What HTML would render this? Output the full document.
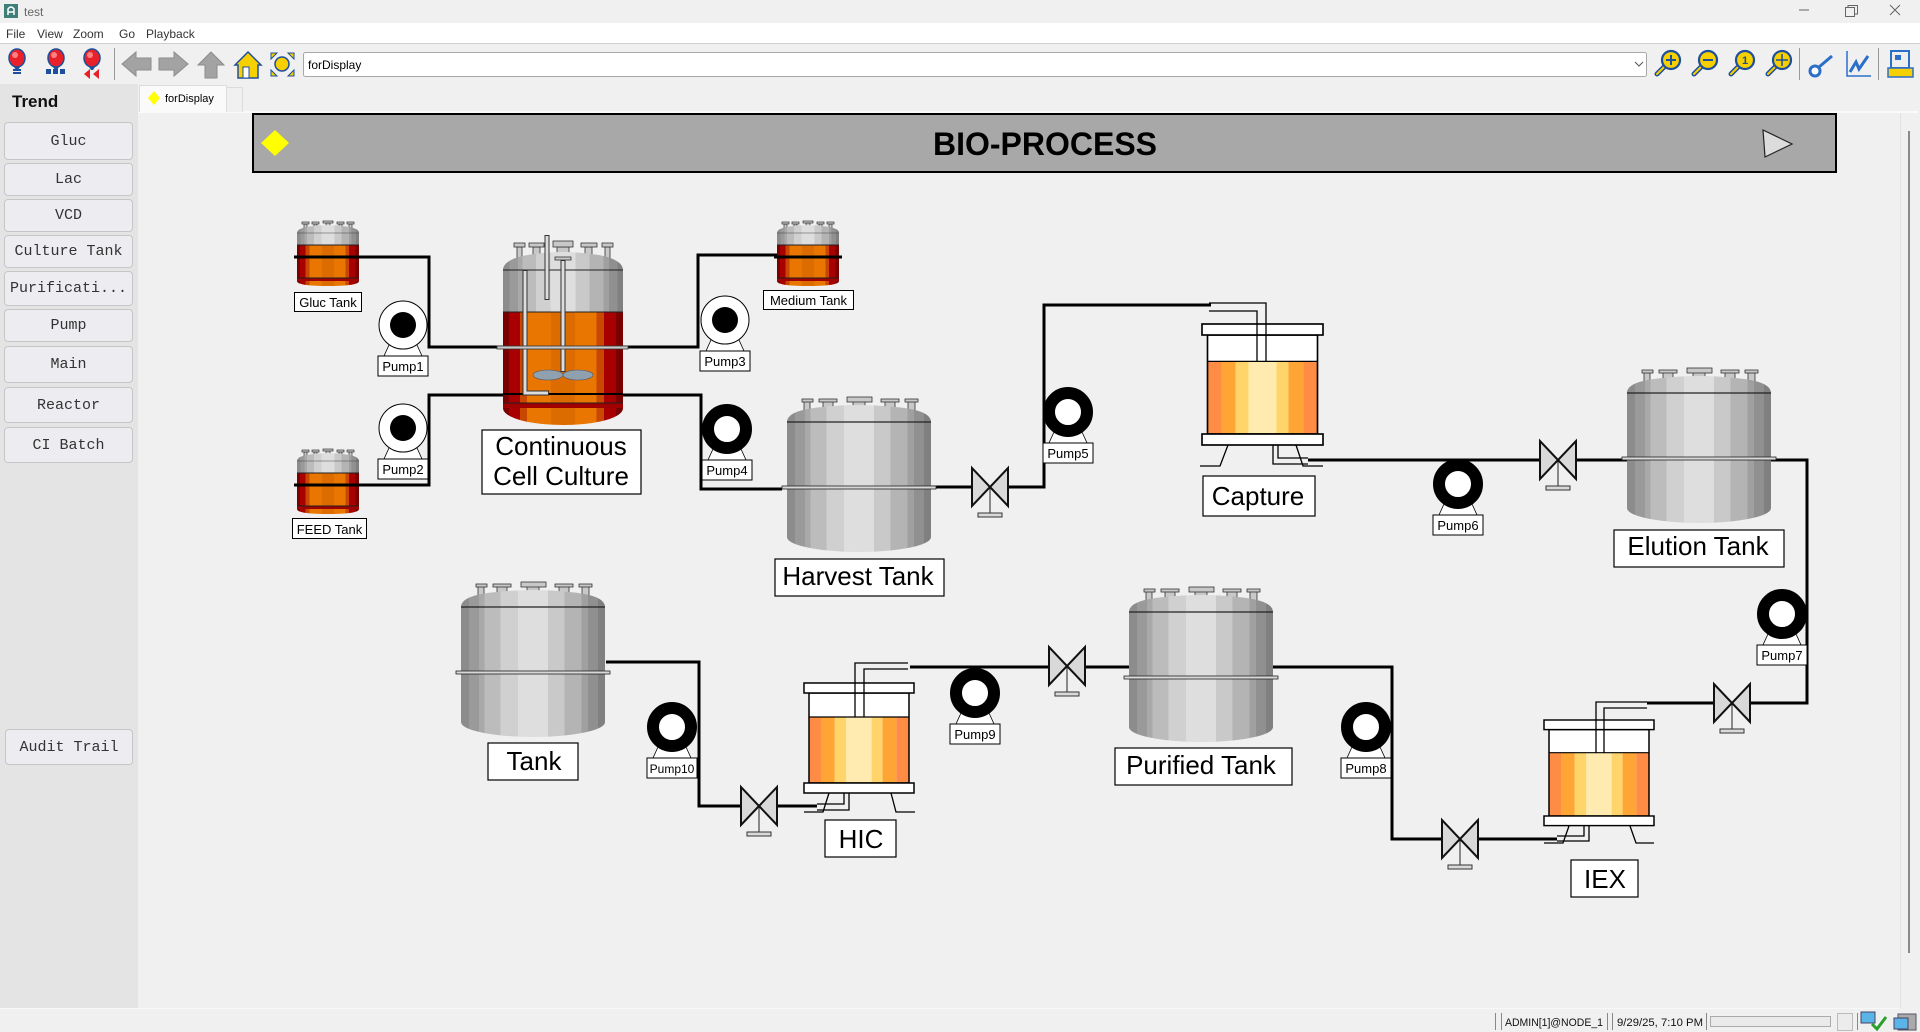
<!DOCTYPE html>
<html><head><meta charset="utf-8">
<style>
*{margin:0;padding:0;box-sizing:border-box}
body{width:1920px;height:1032px;overflow:hidden;background:#f0f0f0;font-family:"Liberation Sans",sans-serif;position:relative}
.a{position:absolute}
#menu{left:0;top:23px;width:1920px;height:21px;background:#fff;border-bottom:1px solid #cfcfcf}
#side{left:0;top:84px;width:138px;height:924px;background:#e4e4e4}
.btn{position:absolute;left:4px;width:129px;background:#ededf1;border:1px solid #c6c6c6;border-radius:4px;font-family:"Liberation Mono","DejaVu Sans Mono",monospace;font-size:15px;color:#333;display:flex;align-items:center;justify-content:center;white-space:nowrap}
#trend{position:absolute;left:12px;top:8px;font-weight:bold;font-size:17px;color:#111}
#tab{left:139px;top:85px;width:88px;height:27px;background:#fafafa;border:1px solid #dcdcdc;border-bottom:none}
#tab2{left:227px;top:87px;width:16px;height:25px;background:#f0f0f0;border:1px solid #dcdcdc;border-bottom:none;border-left:none}
#tabline{left:138px;top:111px;width:1780px;height:2px;background:#fafafa}
svg{position:absolute;left:0;top:0}
</style></head>
<body>
<div class="a" id="menu"></div>
<div class="a" id="side">
  <div id="trend">Trend</div>
  <div class="btn" style="top:38px;height:38px">Gluc</div>
  <div class="btn" style="top:79px;height:33px">Lac</div>
  <div class="btn" style="top:115px;height:33px">VCD</div>
  <div class="btn" style="top:151px;height:33px">Culture Tank</div>
  <div class="btn" style="top:187px;height:35px">Purificati...</div>
  <div class="btn" style="top:225px;height:33px">Pump</div>
  <div class="btn" style="top:262px;height:37px">Main</div>
  <div class="btn" style="top:303px;height:36px">Reactor</div>
  <div class="btn" style="top:343px;height:36px">CI Batch</div>
  <div class="btn" style="top:645px;height:36px;left:5px;width:128px">Audit Trail</div>
</div>
<div class="a" id="tabline"></div>
<div class="a" id="tab"></div>
<div class="a" id="tab2"></div>

<svg width="1920" height="1032" viewBox="0 0 1920 1032" xmlns="http://www.w3.org/2000/svg">
<defs>
<linearGradient id="gg" x1="0" x2="1" y1="0" y2="0">
<stop offset="0" stop-color="#8c8c8c"/><stop offset=".054" stop-color="#8c8c8c"/>
<stop offset=".054" stop-color="#9a9a9a"/><stop offset=".124" stop-color="#9a9a9a"/>
<stop offset=".124" stop-color="#a9a9a9"/><stop offset=".164" stop-color="#a9a9a9"/>
<stop offset=".164" stop-color="#bcbcbc"/><stop offset=".276" stop-color="#bcbcbc"/>
<stop offset=".276" stop-color="#d0d0d0"/><stop offset=".397" stop-color="#d0d0d0"/>
<stop offset=".397" stop-color="#dedede"/><stop offset=".603" stop-color="#dedede"/>
<stop offset=".603" stop-color="#c9c9c9"/><stop offset=".72" stop-color="#c9c9c9"/>
<stop offset=".72" stop-color="#b4b4b4"/><stop offset=".836" stop-color="#b4b4b4"/>
<stop offset=".836" stop-color="#a0a0a0"/><stop offset=".883" stop-color="#a0a0a0"/>
<stop offset=".883" stop-color="#909090"/><stop offset=".953" stop-color="#909090"/>
<stop offset=".953" stop-color="#808080"/><stop offset="1" stop-color="#808080"/>
</linearGradient>
<linearGradient id="og" x1="0" x2="1" y1="0" y2="0">
<stop offset="0" stop-color="#7a0000"/><stop offset=".05" stop-color="#7a0000"/>
<stop offset=".05" stop-color="#a80000"/><stop offset=".14" stop-color="#a80000"/>
<stop offset=".14" stop-color="#c84800"/><stop offset=".2" stop-color="#c84800"/>
<stop offset=".2" stop-color="#e87600"/><stop offset=".4" stop-color="#e87600"/>
<stop offset=".4" stop-color="#dc6c00"/><stop offset=".6" stop-color="#dc6c00"/>
<stop offset=".6" stop-color="#e87600"/><stop offset=".78" stop-color="#e87600"/>
<stop offset=".78" stop-color="#c84800"/><stop offset=".84" stop-color="#c84800"/>
<stop offset=".84" stop-color="#a80000"/><stop offset=".94" stop-color="#a80000"/>
<stop offset=".94" stop-color="#7a0000"/><stop offset="1" stop-color="#7a0000"/>
</linearGradient>

<g id="gt">
 <g fill="#c8c8c8" stroke="#333" stroke-width=".8">
  <rect x="17" y="-21" width="6" height="14"/><rect x="15" y="-23" width="11" height="3"/>
  <rect x="36" y="-21" width="10" height="14"/><rect x="32" y="-23" width="18" height="3"/>
  <rect x="66" y="-21" width="12" height="14"/><rect x="60" y="-25" width="25" height="5"/>
  <rect x="98" y="-21" width="10" height="14"/><rect x="94" y="-23" width="18" height="3"/>
  <rect x="121" y="-21" width="7" height="14"/><rect x="118" y="-23" width="13" height="3"/>
 </g>
 <path d="M0,0 C0,-8 12,-13 36,-15 Q72,-19 108,-15 C132,-13 144,-8 144,0Z" fill="url(#gg)"/>
 <rect x="0" y="0" width="144" height="115" fill="url(#gg)"/>
 <path d="M0,115 C0,124 36,130 72,130 C108,130 144,124 144,115Z" fill="url(#gg)"/>
 <line x1="0" y1="0" x2="144" y2="0" stroke="#222" stroke-width="1.2"/>
 <rect x="-5" y="64" width="154" height="3" fill="#d8d8d8" stroke="#222" stroke-width=".8"/>
</g>

<g id="st">
 <g fill="#c8c8c8" stroke="#333" stroke-width=".7">
  <rect x="7" y="-21" width="3" height="5"/><rect x="5" y="-23" width="7" height="2"/>
  <rect x="17" y="-21" width="3" height="5"/><rect x="15" y="-23" width="7" height="2"/>
  <rect x="29" y="-22" width="4" height="6"/><rect x="26" y="-24" width="10" height="2"/>
  <rect x="42" y="-21" width="3" height="5"/><rect x="40" y="-23" width="7" height="2"/>
  <rect x="52" y="-21" width="3" height="5"/><rect x="50" y="-23" width="7" height="2"/>
 </g>
 <path d="M0,-12 C0,-17 10,-19 31,-20 C52,-19 62,-17 62,-12 V0 H0Z" fill="url(#gg)"/>
 <line x1="0" y1="-12" x2="62" y2="-12" stroke="#444" stroke-width=".6"/>
 <rect x="0" y="0" width="62" height="33" fill="url(#og)"/>
 <line x1="0" y1="0" x2="62" y2="0" stroke="#222"/>
 <rect x="0" y="33" width="62" height="3" fill="#a00000"/>
 <line x1="0" y1="33" x2="62" y2="33" stroke="#222"/>
 <path d="M0,36 C0,40 15,41 31,41 C47,41 62,40 62,36Z" fill="url(#og)"/>
 <line x1="-3" y1="12" x2="65" y2="12" stroke="#000" stroke-width="3"/>
</g>

<g id="col">
 <rect x="5" y="10" width="100" height="24" fill="#fff"/>
 <rect x="5" y="34" width="12.7" height="66" fill="#ff8c45"/>
 <rect x="17.7" y="34" width="12.8" height="66" fill="#ffa535"/>
 <rect x="30.5" y="34" width="11.8" height="66" fill="#ffd46b"/>
 <rect x="42.3" y="34" width="25.4" height="66" fill="#ffebb0"/>
 <rect x="67.7" y="34" width="10.9" height="66" fill="#ffd46b"/>
 <rect x="78.6" y="34" width="13.7" height="66" fill="#ffa535"/>
 <rect x="92.3" y="34" width="12.7" height="66" fill="#ff8c45"/>
 <rect x="5" y="10" width="100" height="90" fill="none" stroke="#000" stroke-width="1.5"/>
 <line x1="5" y1="34" x2="105" y2="34" stroke="#000" stroke-width="1.2"/>
 <rect x="0" y="0" width="110" height="10" fill="#fff" stroke="#000" stroke-width="1.5"/>
 <rect x="0" y="100" width="110" height="10" fill="#fff" stroke="#000" stroke-width="1.5"/>
</g>

<g id="vl">
 <line x1="0" y1="0" x2="0" y2="26" stroke="#222" stroke-width="1"/>
 <rect x="-12" y="26" width="24" height="4" fill="#d9d9d9" stroke="#333" stroke-width="1"/>
 <path d="M-18,-19 L-18,19 L0,0Z M18,-19 L18,19 L0,0Z" fill="#d9d9d9" stroke="#111" stroke-width="2" stroke-linejoin="miter"/>
</g>

<g id="pw">
 <path d="M-14,20 L14,20 L19,31 L-19,31Z" fill="#fff" stroke="#000" stroke-width=".8"/>
 <circle r="24" fill="#fff" stroke="#000" stroke-width="1"/>
 <circle r="13" fill="#000"/>
 <rect x="-25" y="31" width="50" height="20" fill="#fff" stroke="#000"/>
</g>
<g id="pb">
 <path d="M-14,20 L14,20 L19,31 L-19,31Z" fill="#fff" stroke="#000" stroke-width=".8"/>
 <circle r="19" fill="#fff" stroke="#000" stroke-width="12"/>
 <rect x="-25" y="31" width="50" height="20" fill="#fff" stroke="#000"/>
</g>

<g id="mag">
 <line x1="-4" y1="4" x2="-11" y2="11" stroke="#1d4f9c" stroke-width="5" stroke-linecap="round"/>
 <line x1="-4" y1="4" x2="-11" y2="11" stroke="#f6d000" stroke-width="2" stroke-linecap="round"/>
 <circle cx="3" cy="-3" r="9" fill="#f6d000" stroke="#1d4f9c" stroke-width="2.2"/>
</g>
<g id="bulb">
 <ellipse cx="0" cy="-4" rx="8" ry="9" fill="#e8202a" stroke="#1d4f9c" stroke-width="1.5"/>
 <ellipse cx="-2" cy="-7" rx="3" ry="3" fill="#ff8080"/>
 <path d="M-3,5 L3,5 L1,8 L-1,8Z" fill="#1d4f9c"/>
</g>
</defs>

<!-- title bar -->
<rect x="4" y="4" width="14" height="14" fill="#3f7f79"/>
<path d="M8,15 V9 Q11,5 14,9 V15 M8,12 H14" stroke="#fff" stroke-width="1.5" fill="none"/>
<text x="24" y="16" font-size="12" fill="#666">test</text>
<line x1="1799" y1="10" x2="1809" y2="10" stroke="#666"/>
<rect x="1845.5" y="7.5" width="9" height="9" fill="none" stroke="#666"/>
<path d="M1848,7.5 V5.5 H1857.5 V14 H1855" fill="none" stroke="#666"/>
<path d="M1890,5 L1900,15 M1900,5 L1890,15" stroke="#666" stroke-width="1"/>

<!-- menu -->
<g font-size="12" fill="#333">
<text x="6" y="38">File</text><text x="37" y="38">View</text><text x="73" y="38">Zoom</text><text x="119" y="38">Go</text><text x="146" y="38">Playback</text>
</g>

<!-- toolbar -->
<use href="#bulb" x="17" y="62"/>
<path d="M13,70 h8 M13,73 h8" stroke="#1d4f9c" stroke-width="2"/>
<use href="#bulb" x="56" y="62"/>
<g fill="#1d4f9c"><rect x="46" y="69" width="5" height="5"/><rect x="53" y="69" width="5" height="5"/><rect x="60" y="69" width="5" height="5"/></g>
<use href="#bulb" x="92" y="62"/>
<path d="M84,74 L90,69 V79Z M93,74 L99,69 V79Z" fill="#e8202a"/>
<line x1="114.5" y1="48" x2="114.5" y2="80" stroke="#999"/>
<path d="M122,64 L136,52 V58 H151 V70 H136 V76Z" fill="#a3a3a3" stroke="#8c8c8c"/>
<path d="M188,64 L174,52 V58 H159 V70 H174 V76Z" fill="#a3a3a3" stroke="#8c8c8c"/>
<path d="M211,52 L224,65 H217 V78 H205 V65 H198Z" fill="#a3a3a3" stroke="#8c8c8c"/>
<path d="M248,52 L261,65 H258 V78 H238 V65 H235Z" fill="#f6d000" stroke="#1d4f9c" stroke-width="1.5"/>
<rect x="243" y="67" width="6" height="11" fill="#fff" stroke="#1d4f9c"/>
<circle cx="282" cy="64" r="7" fill="#f6d000" stroke="#1d4f9c" stroke-width="1.5"/>
<g fill="#f6d000" stroke="#1d4f9c"><path d="M271,53 h6 l-6,6z"/><path d="M294,53 h-6 l6,6z"/><path d="M271,76 h6 l-6,-6z"/><path d="M294,76 h-6 l6,-6z"/></g>
<rect x="303.5" y="52.5" width="1343" height="24" rx="2" fill="#fff" stroke="#a8a8a8"/>
<text x="308" y="69" font-size="12" fill="#000">forDisplay</text>
<path d="M1635,62 L1639,66 L1643,62" fill="none" stroke="#555"/>
<use href="#mag" x="1668" y="63"/><path d="M1671,55 V65 M1666,60 H1676" stroke="#1d4f9c" stroke-width="2"/>
<use href="#mag" x="1705" y="63"/><path d="M1703,60 H1713" stroke="#1d4f9c" stroke-width="2"/>
<use href="#mag" x="1742" y="63"/><text x="1745" y="64" font-size="11" font-weight="bold" fill="#1d4f9c" text-anchor="middle">1</text>
<use href="#mag" x="1779" y="63"/><path d="M1782,54 V66 M1776,60 H1788" stroke="#1d4f9c" stroke-width="1.5"/>
<line x1="1799.5" y1="48" x2="1799.5" y2="80" stroke="#999"/>
<circle cx="1815" cy="71" r="5" fill="#fff" stroke="#2a6fc9" stroke-width="3"/>
<path d="M1819,67 L1832,56" stroke="#2a6fc9" stroke-width="3"/>
<path d="M1847,51 V76 H1871" fill="none" stroke="#2a6fc9" stroke-width="1.5"/>
<path d="M1850,72 L1856,62 L1859,69 L1868,56" fill="none" stroke="#2a6fc9" stroke-width="3"/>
<line x1="1878.5" y1="48" x2="1878.5" y2="80" stroke="#999"/>
<rect x="1891" y="51" width="18" height="17" fill="#eee" stroke="#2a6fc9" stroke-width="2"/>
<rect x="1895" y="55" width="6" height="5" fill="#2a6fc9"/>
<rect x="1888" y="68" width="25" height="9" fill="#f6d000" stroke="#2a6fc9" stroke-width="1.5"/>

<!-- tab -->
<path d="M154,91 L160,98 L154,105 L148,98Z" fill="#ffff00"/>
<text x="165" y="102" font-size="11" fill="#000">forDisplay</text>

<!-- scrollbar -->
<line x1="1900.5" y1="113" x2="1900.5" y2="1008" stroke="#e2e2e2"/>
<line x1="1909" y1="131" x2="1909" y2="953" stroke="#8a8a8a" stroke-width="2"/>

<!-- banner -->
<rect x="253" y="114" width="1583" height="58" fill="#a8a8a8" stroke="#000" stroke-width="2"/>
<path d="M275,130 L289,143 L275,156 L261,143Z" fill="#ffff00"/>
<text x="1045" y="155" font-size="32" font-weight="bold" text-anchor="middle" fill="#000">BIO-PROCESS</text>
<path d="M1763,130 L1792,144 L1765,157Z" fill="#dcdcdc" stroke="#222" stroke-width="1.2"/>

<!-- pipes -->
<g fill="none" stroke="#000" stroke-width="3">
<path d="M294,257 H429 V347 H698 V255 H777"/>
<path d="M294,485 H429 V395 H701 V489 H782"/>
<path d="M931,487 H973 M1009,487 H1044 V305 H1211"/>
<path d="M1308,460 H1541 M1577,460 H1627"/>
<path d="M1770,460 H1807 V703 H1751 M1714,703 H1647"/>
<path d="M1557,839 H1479 M1443,839 H1392 V667 H1273"/>
<path d="M1129,667 H1085 M1049,667 H910"/>
<path d="M817,806 H777 M741,806 H699 V662 H606"/>
</g>

<!-- small tanks -->
<use href="#st" x="297" y="245"/>
<use href="#st" x="777" y="245"/>
<use href="#st" x="297" y="473"/>

<!-- reactor -->
<g fill="#c8c8c8" stroke="#333" stroke-width=".8">
 <rect x="517" y="247" width="5" height="15"/><rect x="514" y="243" width="11" height="4"/>
 <rect x="533" y="247" width="7" height="15"/><rect x="529" y="243" width="15" height="4"/>
 <rect x="557" y="247" width="12" height="15"/><rect x="553" y="241" width="20" height="6"/>
 <rect x="585" y="247" width="7" height="15"/><rect x="581" y="243" width="16" height="4"/>
 <rect x="605" y="247" width="5" height="15"/><rect x="602" y="243" width="11" height="4"/>
</g>
<path d="M503,270 C503,262 515,256 535,254 Q563,250 591,254 C611,256 623,262 623,270Z" fill="url(#gg)"/>
<rect x="503" y="270" width="120" height="42" fill="url(#gg)"/>
<rect x="503" y="312" width="120" height="91" fill="url(#og)"/>
<rect x="503" y="403" width="120" height="5" fill="#a00000"/>
<path d="M503,408 C503,418 530,425 563,425 C596,425 623,418 623,408Z" fill="url(#og)"/>
<g stroke="#222" stroke-width="1">
<line x1="503" y1="270" x2="623" y2="270"/><line x1="503" y1="312" x2="623" y2="312"/><line x1="503" y1="403" x2="623" y2="403"/>
</g>
<line x1="503" y1="394" x2="623" y2="394" stroke="#000" stroke-width="2"/>
<rect x="555" y="257" width="16" height="3" fill="#c8c8c8" stroke="#333" stroke-width=".8"/>
<g fill="none">
<path d="M547,235 V300" stroke="#333" stroke-width="5"/><path d="M547,236 V299" stroke="#ddd" stroke-width="3"/>
<path d="M563,260 V372" stroke="#333" stroke-width="5"/><path d="M563,261 V371" stroke="#ddd" stroke-width="3"/>
<path d="M525,270 V393 H549" stroke="#333" stroke-width="5"/><path d="M525,271 V393 H548" stroke="#ddd" stroke-width="3"/>
</g>
<ellipse cx="548" cy="375" rx="15" ry="5" fill="#8fa1ae" stroke="#556" stroke-width=".6"/>
<ellipse cx="578" cy="375" rx="15" ry="5" fill="#8fa1ae" stroke="#556" stroke-width=".6"/>
<rect x="497" y="346" width="131" height="3" fill="#c8c8c8" stroke="#333" stroke-width=".8"/>

<!-- gray tanks -->
<use href="#gt" x="787" y="422"/>
<use href="#gt" x="1627" y="393"/>
<use href="#gt" x="461" y="607"/>
<use href="#gt" x="1129" y="612"/>

<!-- columns -->
<use href="#col" transform="translate(1202,324) scale(1.1,1.1)"/>
<use href="#col" transform="translate(804,683)"/>
<use href="#col" transform="translate(1544,720) scale(1,0.96)"/>
<g fill="none" stroke="#000" stroke-width="1.3">
<path d="M1266,362 V303 H1209 M1257,362 V311 H1209"/>
<path d="M1228,445 L1220,466 H1200 M1296,445 L1303,466 H1323 M1273,445 V464 H1308 M1278,445 V458 H1308"/>
<path d="M855,717 V663 H908 M864,717 V669 H908"/>
<path d="M829,793 L823,812 H804 M891,793 L896,812 H915 M844,793 V804 H817 M849,793 V810 H817"/>
<path d="M1596,753 V702 H1647 M1604,753 V708 H1647"/>
<path d="M1569,826 L1563,843 H1544 M1630,826 L1636,843 H1654 M1584,826 V836 H1557 M1589,826 V841 H1557"/>
</g>

<!-- valves -->
<use href="#vl" x="990" y="487"/>
<use href="#vl" x="1558" y="460"/>
<use href="#vl" x="1732" y="703"/>
<use href="#vl" x="1460" y="839"/>
<use href="#vl" x="1067" y="666"/>
<use href="#vl" x="759" y="806"/>

<!-- pumps -->
<use href="#pw" x="403" y="325"/>
<use href="#pw" x="403" y="428"/>
<use href="#pw" x="725" y="320"/>
<use href="#pb" x="727" y="429"/>
<use href="#pb" x="1068" y="412"/>
<use href="#pb" x="1458" y="484"/>
<use href="#pb" x="1782" y="614"/>
<use href="#pb" x="1366" y="727"/>
<use href="#pb" x="975" y="693"/>
<use href="#pb" x="672" y="727"/>
<g font-size="13" text-anchor="middle" fill="#000">
<text x="403" y="371">Pump1</text>
<text x="403" y="474">Pump2</text>
<text x="725" y="366">Pump3</text>
<text x="727" y="475">Pump4</text>
<text x="1068" y="458">Pump5</text>
<text x="1458" y="530">Pump6</text>
<text x="1782" y="660">Pump7</text>
<text x="1366" y="773">Pump8</text>
<text x="975" y="739">Pump9</text>
<text x="672" y="773" font-size="12">Pump10</text>
</g>

<!-- small labels -->
<g fill="#fff" stroke="#000" stroke-width="1">
<rect x="294.5" y="292.5" width="67" height="19"/>
<rect x="292.5" y="518.5" width="74" height="20"/>
<rect x="763.5" y="290.5" width="90" height="19"/>
</g>
<g font-size="13" text-anchor="middle" fill="#000">
<text x="328" y="307">Gluc Tank</text>
<text x="329.5" y="534">FEED Tank</text>
<text x="808.5" y="305">Medium Tank</text>
</g>

<!-- big labels -->
<g fill="#fff" stroke="#000" stroke-width="1.2">
<rect x="482" y="430" width="159" height="64"/>
<rect x="775" y="559" width="169" height="37"/>
<rect x="1203" y="476" width="112" height="40"/>
<rect x="1614" y="530" width="170" height="37"/>
<rect x="488" y="743" width="90" height="37"/>
<rect x="825" y="820" width="71" height="37"/>
<rect x="1115" y="748" width="177" height="37"/>
<rect x="1571" y="860" width="67" height="37"/>
</g>
<g font-size="26" text-anchor="middle" fill="#000">
<text x="561" y="455">Continuous</text>
<text x="561" y="485">Cell Culture</text>
<text x="858" y="585">Harvest Tank</text>
<text x="1258" y="505">Capture</text>
<text x="1698" y="555">Elution Tank</text>
<text x="534" y="770">Tank</text>
<text x="861" y="848">HIC</text>
<text x="1201" y="774">Purified Tank</text>
<text x="1605" y="888">IEX</text>
</g>

<!-- status bar -->
<line x1="0" y1="1008.5" x2="1900" y2="1008.5" stroke="#f7f7f7"/>
<g stroke="#888" stroke-width="1">
<line x1="1495.5" y1="1013" x2="1495.5" y2="1030"/><line x1="1501.5" y1="1013" x2="1501.5" y2="1030"/>
<line x1="1607.5" y1="1013" x2="1607.5" y2="1030"/><line x1="1612.5" y1="1013" x2="1612.5" y2="1030"/>
<line x1="1706.5" y1="1013" x2="1706.5" y2="1030"/><line x1="1857.5" y1="1013" x2="1857.5" y2="1030"/>
</g>
<text x="1505" y="1026" font-size="11" fill="#111" textLength="98" lengthAdjust="spacingAndGlyphs">ADMIN[1]@NODE_1</text>
<text x="1617" y="1026" font-size="11" fill="#111" textLength="86" lengthAdjust="spacingAndGlyphs">9/29/25, 7:10 PM</text>
<rect x="1710.5" y="1016.5" width="120" height="10" fill="#eaeaea" stroke="#aaa"/>
<rect x="1837.5" y="1013.5" width="15" height="17" fill="#ececec" stroke="#bbb"/>
<rect x="1861" y="1012" width="14" height="11" fill="#5ab4e8" stroke="#446"/>
<path d="M1872,1024 L1877,1029 L1886,1017" fill="none" stroke="#2aa02a" stroke-width="3"/>
<rect x="1898" y="1014" width="18" height="16" fill="#aaa" stroke="#556"/>
<rect x="1894" y="1018" width="14" height="11" fill="#5ab4e8" stroke="#446"/>
</svg>
</body></html>
